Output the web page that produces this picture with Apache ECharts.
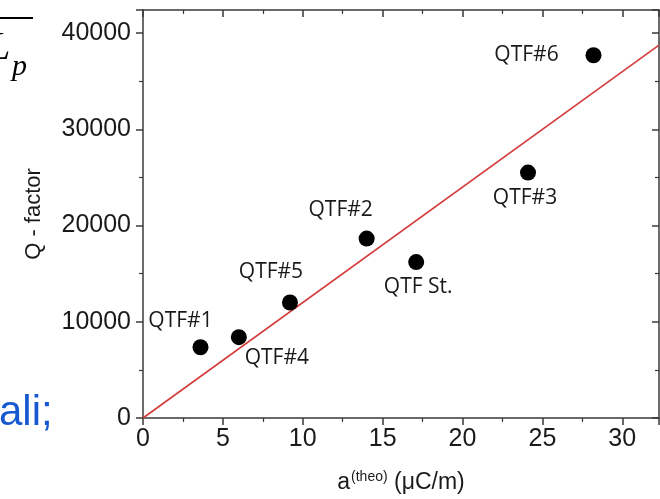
<!DOCTYPE html>
<html>
<head>
<meta charset="utf-8">
<script src="https://cdn.jsdelivr.net/npm/echarts@6/dist/echarts.min.js"></script>
<style>
  html, body { margin: 0; padding: 0; background: #fff; }
  #main { width: 660px; height: 499px; }
</style>
</head>
<body>
<div id="main"></div>
<script>
// sample names and measured values
var names = ['QTF#1', 'QTF#4', 'QTF#5', 'QTF#2', 'QTF St.', 'QTF#3', 'QTF#6'];
var aTheo = [3.6, 6.0, 9.2, 14.0, 17.1, 24.1, 28.2];
var qFactor = [7350, 8400, 12000, 18650, 16200, 25500, 37700];
// linear fit through origin
var fitX = [0, 32.3];
var fitY = [0, 38760];

var labelOffset = {      // label shift from the dot (px)
  'QTF#1': [-20, -26],
  'QTF#4': [38, 21],
  'QTF#5': [-19, -31],
  'QTF#2': [-26, -29],
  'QTF St.': [2, 25],
  'QTF#3': [-3, 25],
  'QTF#6': [-67, 0]
};

var chart = echarts.init(document.getElementById('main'));

var axisCol = '#3a3a3a';
var tickFont = { fontFamily: 'Liberation Sans', fontSize: 25, color: '#1a1a1a' };
var plain = function (v) { return String(v); };

var points = names.map(function (n, i) {
  return {
    name: n,
    value: [aTheo[i], qFactor[i]],
    label: { offset: labelOffset[n] }
  };
});

var option = {
  animation: false,
  grid: { left: 143, top: 10, right: 1, bottom: 80 },
  xAxis: [{
    type: 'value', min: 0, max: 32.3, interval: 5,
    name: '{a|a}{s|(theo)}{a| (μC/m)}',
    nameLocation: 'middle', nameGap: 52,
    nameTextStyle: {
      rich: {
        a: { fontFamily: 'Liberation Sans', fontSize: 23, color: '#1a1a1a', verticalAlign: 'bottom' },
        s: { fontFamily: 'Liberation Sans', fontSize: 14, color: '#1a1a1a', verticalAlign: 'top', padding: [0, 0, 10, 1] }
      }
    },
    axisLine: { onZero: false, lineStyle: { color: axisCol, width: 1.5 } },
    axisTick: { length: 7, lineStyle: { color: axisCol, width: 1.5 } },
    minorTick: { show: true, splitNumber: 2, length: 4, lineStyle: { color: axisCol, width: 1.2 } },
    axisLabel: Object.assign({ margin: 9, showMaxLabel: false, formatter: plain }, tickFont),
    splitLine: { show: false }
  }, {
    type: 'value', position: 'top', min: 0, max: 32.3, interval: 5,
    axisLine: { onZero: false, lineStyle: { color: axisCol, width: 1.5 } },
    axisTick: { inside: true, length: 7, lineStyle: { color: axisCol, width: 1.5 } },
    minorTick: { show: true, splitNumber: 2, length: 4, lineStyle: { color: axisCol, width: 1.2 } },
    axisLabel: { show: false },
    splitLine: { show: false }
  }],
  yAxis: [{
    type: 'value', min: 0, max: 42400, interval: 10000,
    name: 'Q - factor',
    nameLocation: 'middle', nameGap: 98,
    nameTextStyle: { fontFamily: 'Liberation Sans', fontSize: 22, color: '#1a1a1a' },
    axisLine: { onZero: false, lineStyle: { color: axisCol, width: 1.5 } },
    axisTick: { length: 7, lineStyle: { color: axisCol, width: 1.5 } },
    minorTick: { show: true, splitNumber: 2, length: 4, lineStyle: { color: axisCol, width: 1.2 } },
    axisLabel: Object.assign({ margin: 12, showMaxLabel: false, formatter: plain }, tickFont),
    splitLine: { show: false }
  }, {
    type: 'value', position: 'right', min: 0, max: 42400, interval: 10000,
    axisLine: { show: true, onZero: false, lineStyle: { color: axisCol, width: 1.5 } },
    axisTick: { show: true, inside: true, length: 7, lineStyle: { color: axisCol, width: 1.5 } },
    minorTick: { show: true, splitNumber: 2, length: 4, lineStyle: { color: axisCol, width: 1.2 } },
    axisLabel: { show: false },
    splitLine: { show: false }
  }],
  series: [{
    type: 'line',
    data: fitX.map(function (x, i) { return [x, fitY[i]]; }),
    showSymbol: false,
    lineStyle: { color: '#d43a3a', width: 1.6 },
    z: 1
  }, {
    type: 'scatter',
    data: points,
    symbolSize: 16,
    itemStyle: { color: '#000', opacity: 1 },
    label: {
      show: true, position: 'inside',
      formatter: '{b}',
      fontFamily: 'Open Sans', fontSize: 21, color: '#1a1a1a'
    },
    z: 3
  }],
  graphic: [
    // fragments of the surrounding page, cut off by the crop
    { type: 'line', shape: { x1: 0, y1: 18, x2: 33, y2: 18 }, style: { stroke: '#000', lineWidth: 2 } },
    { type: 'text', left: -12, top: 28, style: { text: 'L', font: 'italic 40px "Liberation Serif"', fill: '#000' } },
    { type: 'text', left: 12, top: 52, style: { text: 'p', font: 'italic 30px "Liberation Serif"', fill: '#000' } },
    { type: 'text', left: -1, top: 392, style: { text: 'ali;', font: '42px "Liberation Sans"', fill: '#1558d0' } }
  ]
};

chart.setOption(option);
</script>
</body>
</html>
